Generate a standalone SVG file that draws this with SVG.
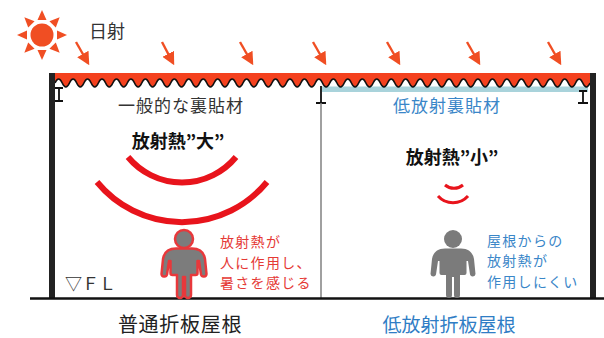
<svg xmlns="http://www.w3.org/2000/svg" width="604" height="338" viewBox="0 0 604 338">
<style>
  text { font-family: "Noto Sans CJK JP", "Noto Sans", sans-serif; }
  .dark { fill: #333333; }
  .red { fill: #E53935; }
  .blue { fill: #3A86C8; }
  .heat { fill: none; stroke: #E8141C; }
  .ray { stroke: #F04E23; stroke-width: 2.4; fill: none; }
  .beam { fill: none; stroke: #111111; stroke-width: 1.8; }
  .wall { fill: #222222; }
</style>
<defs>
  <marker id="arrowhead" viewBox="0 0 10 10" refX="8" refY="5" markerWidth="13" markerHeight="13" markerUnits="userSpaceOnUse" orient="auto">
    <path d="M0,0 L10,5 L0,10 z" fill="#F04E23"/>
  </marker>
  <polygon id="sunray" points="-4.5,-15 4.5,-15 0,-25" fill="#F04E23"/>
  <!-- pictogram person, feet on y=0 -->
  <g id="person">
    <circle cx="0" cy="-59" r="9"/>
    <path d="M-8,-49.5 H8 C16,-49.5 20,-45 21,-39 L22.5,-24 A2.8,2.8 0 0 1 17,-23.5 L15,-37 L13.5,-37 L13.5,-25 Q13.5,-23 11.5,-23 L7,-23 L7,-3 A3,3 0 0 1 1,-3 L1,-21 L-1,-21 L-1,-3 A3,3 0 0 1 -7,-3 L-7,-23 L-11.5,-23 Q-13.5,-23 -13.5,-25 L-13.5,-37 L-15,-37 L-17,-23.5 A2.8,2.8 0 0 1 -22.5,-24 L-21,-39 C-20,-45 -16,-49.5 -8,-49.5 Z"/>
  </g>
</defs>

<rect width="604" height="338" fill="#ffffff"/>

<!-- sun -->
<g id="sun">
  <circle cx="42" cy="35" r="11.5" fill="#F04E23"/>
  <use href="#sunray" transform="translate(42,35)"/>
  <use href="#sunray" transform="translate(42,35) rotate(45)"/>
  <use href="#sunray" transform="translate(42,35) rotate(90)"/>
  <use href="#sunray" transform="translate(42,35) rotate(135)"/>
  <use href="#sunray" transform="translate(42,35) rotate(180)"/>
  <use href="#sunray" transform="translate(42,35) rotate(225)"/>
  <use href="#sunray" transform="translate(42,35) rotate(270)"/>
  <use href="#sunray" transform="translate(42,35) rotate(315)"/>
</g>
<g id="label-solar">
  <text x="89" y="38" font-size="18" class="dark">日射</text>
</g>

<!-- incoming solar radiation arrows -->
<g id="connectors">
  <line class="ray" x1="76" y1="42" x2="88" y2="63" marker-end="url(#arrowhead)"/>
  <line class="ray" x1="162" y1="42" x2="173" y2="63" marker-end="url(#arrowhead)"/>
  <line class="ray" x1="240" y1="42" x2="252" y2="63" marker-end="url(#arrowhead)"/>
  <line class="ray" x1="313" y1="42" x2="325" y2="63" marker-end="url(#arrowhead)"/>
  <line class="ray" x1="387" y1="42" x2="399" y2="63" marker-end="url(#arrowhead)"/>
  <line class="ray" x1="467" y1="42" x2="479" y2="63" marker-end="url(#arrowhead)"/>
  <line class="ray" x1="548" y1="42" x2="560" y2="63" marker-end="url(#arrowhead)"/>
</g>

<!-- folded-plate roof -->
<g id="roof">
  <rect x="322" y="86.5" width="266" height="5.5" fill="#A9D3DB"/>
  <path fill="#F4411E" d="M55,73 V83 q3.615,-8 7.23,0
    t7.23,0 t7.23,0 t7.23,0 t7.23,0 t7.23,0 t7.23,0 t7.23,0 t7.23,0 t7.23,0 t7.23,0
    t7.23,0 t7.23,0 t7.23,0 t7.23,0 t7.23,0 t7.23,0 t7.23,0 t7.23,0 t7.23,0 t7.23,0
    t7.23,0 t7.23,0 t7.23,0 t7.23,0 t7.23,0 t7.23,0 t7.23,0 t7.23,0 t7.23,0 t7.23,0
    t7.23,0 t7.23,0 t7.23,0 t7.23,0 t7.23,0 t7.23,0 t7.23,0 t7.23,0 t7.23,0 t7.23,0
    t7.23,0 t7.23,0 t7.23,0 t7.23,0 t7.23,0 t7.23,0 t7.23,0 t7.23,0 t7.23,0 t7.23,0
    t7.23,0 t7.23,0 t7.23,0 t7.23,0 t7.23,0 t7.23,0 t7.23,0 t7.23,0 t7.23,0 t7.23,0
    t7.23,0 t7.23,0 t7.23,0 t7.23,0 t7.23,0 t7.23,0 t7.23,0 t7.23,0 t7.23,0 t7.23,0
    t7.23,0 t7.23,0 t7.23,0 V73 Z"/>
  <path fill="none" stroke="#111111" stroke-width="1.6" d="M55,83 q3.615,-8 7.23,0
    t7.23,0 t7.23,0 t7.23,0 t7.23,0 t7.23,0 t7.23,0 t7.23,0 t7.23,0 t7.23,0 t7.23,0
    t7.23,0 t7.23,0 t7.23,0 t7.23,0 t7.23,0 t7.23,0 t7.23,0 t7.23,0 t7.23,0 t7.23,0
    t7.23,0 t7.23,0 t7.23,0 t7.23,0 t7.23,0 t7.23,0 t7.23,0 t7.23,0 t7.23,0 t7.23,0
    t7.23,0 t7.23,0 t7.23,0 t7.23,0 t7.23,0 t7.23,0 t7.23,0 t7.23,0 t7.23,0 t7.23,0
    t7.23,0 t7.23,0 t7.23,0 t7.23,0 t7.23,0 t7.23,0 t7.23,0 t7.23,0 t7.23,0 t7.23,0
    t7.23,0 t7.23,0 t7.23,0 t7.23,0 t7.23,0 t7.23,0 t7.23,0 t7.23,0 t7.23,0 t7.23,0
    t7.23,0 t7.23,0 t7.23,0 t7.23,0 t7.23,0 t7.23,0 t7.23,0 t7.23,0 t7.23,0 t7.23,0
    t7.23,0 t7.23,0 t7.23,0"/>
  <path class="beam" d="M55,88 H63 M59,88 V101 M55,101 H63"/>
  <path class="beam" d="M321,86 V103 M316,103 H326"/>
  <path class="beam" d="M579,91 H587 M583,91 V103 M578,103 H588"/>
</g>

<!-- walls, column and floor -->
<g id="structure">
  <line x1="321" y1="103" x2="321" y2="298" stroke="#808080" stroke-width="1.5"/>
  <rect class="wall" x="49" y="73" width="6" height="226"/>
  <rect class="wall" x="590" y="73" width="6" height="225"/>
  <line x1="30" y1="298.5" x2="604" y2="298.5" stroke="#111111" stroke-width="2.5"/>
</g>

<!-- conventional roof side -->
<g id="conventional">
  <text x="181" y="112" font-size="17" letter-spacing="1" text-anchor="middle" class="dark">一般的な裏貼材</text>
  <text x="178" y="148" font-size="18" font-weight="bold" text-anchor="middle" fill="#111111">放射熱”大”</text>
  <path class="heat" stroke-width="6" d="M128,157 A70,70 0 0 0 236,157"/>
  <path class="heat" stroke-width="6" d="M97,182 A110,110 0 0 0 267,182"/>
  <use href="#person" transform="translate(184,298)" fill="#7C7C7C" stroke="#E8383B" stroke-width="2.5" stroke-linejoin="round"/>
  <text class="red" font-size="14" letter-spacing="1.3">
    <tspan x="220" y="247">放射熱が</tspan>
    <tspan x="220" y="268">人に作用し、</tspan>
    <tspan x="220" y="288">暑さを感じる</tspan>
  </text>
  <text x="65" y="290" font-size="17" class="dark">▽ＦＬ</text>
  <text x="180" y="332" font-size="20" letter-spacing="0.7" text-anchor="middle" fill="#222222">普通折板屋根</text>
</g>

<!-- low-emission roof side -->
<g id="low-emission">
  <text x="447" y="112" font-size="17" letter-spacing="1" text-anchor="middle" class="blue">低放射裏貼材</text>
  <text x="452" y="164" font-size="18" font-weight="bold" text-anchor="middle" fill="#111111">放射熱”小”</text>
  <path class="heat" stroke-width="3" d="M445,185 A14,14 0 0 0 463,185"/>
  <path class="heat" stroke-width="3" d="M438,196 A20,20 0 0 0 468,196"/>
  <use href="#person" transform="translate(453,298)" fill="#7B7B7B"/>
  <text class="blue" font-size="14" letter-spacing="1.3">
    <tspan x="487" y="246">屋根からの</tspan>
    <tspan x="487" y="266">放射熱が</tspan>
    <tspan x="487" y="287">作用しにくい</tspan>
  </text>
  <text x="449" y="332" font-size="19" text-anchor="middle" fill="#2F7DC5">低放射折板屋根</text>
</g>
</svg>
